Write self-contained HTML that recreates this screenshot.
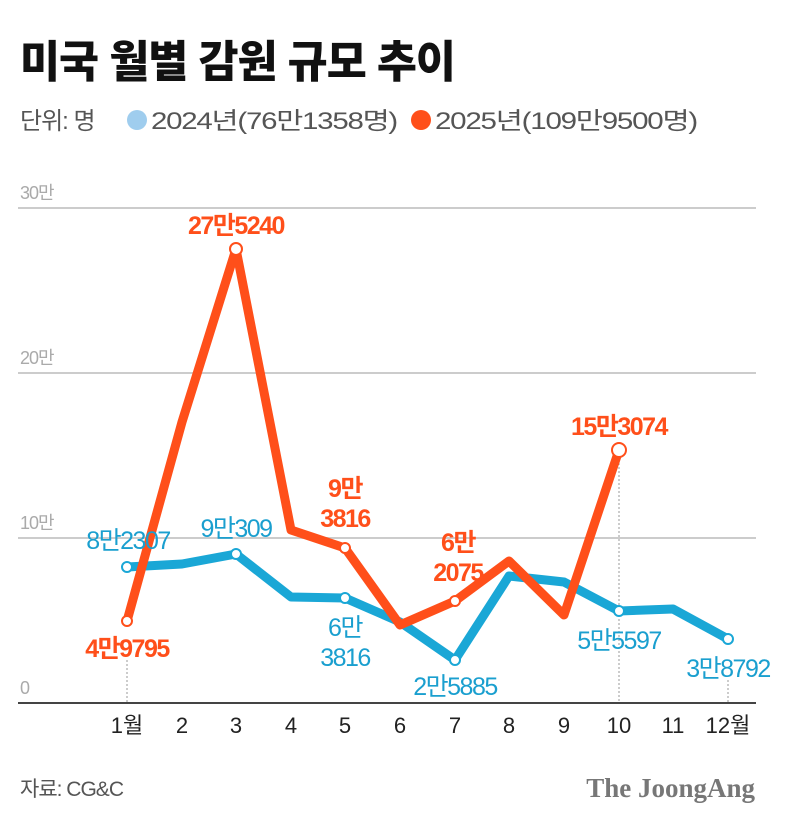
<!DOCTYPE html>
<html><head><meta charset="utf-8"><style>
html,body{margin:0;padding:0;background:#fff;}
svg{display:block;}
text{font-family:"Liberation Sans","Noto Sans CJK KR",sans-serif;}
</style></head><body>
<svg width="798" height="822" viewBox="0 0 798 822" xmlns="http://www.w3.org/2000/svg">
<text x="20" y="77" font-size="44" font-weight="900" fill="#111" letter-spacing="-1" textLength="435" lengthAdjust="spacingAndGlyphs">미국 월별 감원 규모 추이</text>
<text x="20" y="129" font-size="24" fill="#555" letter-spacing="-1">단위: 명</text>
<circle cx="137" cy="120" r="10" fill="#9fcdee"/>
<text x="151" y="129" font-size="24" fill="#555" letter-spacing="-1" textLength="246" lengthAdjust="spacingAndGlyphs">2024년(76만1358명)</text>
<circle cx="421" cy="120" r="10" fill="#ff4f1a"/>
<text x="435" y="129" font-size="24" fill="#555" letter-spacing="-1" textLength="262" lengthAdjust="spacingAndGlyphs">2025년(109만9500명)</text>
<g stroke="#ccc" stroke-width="2">
<line x1="18" y1="208" x2="756" y2="208"/>
<line x1="18" y1="373" x2="756" y2="373"/>
<line x1="18" y1="538" x2="756" y2="538"/>
</g>
<line x1="18" y1="703" x2="756" y2="703" stroke="#444" stroke-width="2"/>
<g font-size="18" fill="#aaa" letter-spacing="-1">
<text x="20" y="199">30만</text><text x="20" y="364">20만</text><text x="20" y="529">10만</text><text x="20" y="694">0</text>
</g>
<g stroke="#999" stroke-dasharray="2,2" stroke-width="1">
<line x1="127" y1="660" x2="127" y2="703"/>
<line x1="619" y1="455" x2="619" y2="703"/>
<line x1="728" y1="680" x2="728" y2="703"/>
</g>
<polyline fill="none" stroke="#1aa7d6" stroke-width="9" stroke-linejoin="round" points="127,567 182,564 236,554 291,597 345,598 400,622 455,660 509,576 564,582 619,611 673,609 728,639"/>
<polyline fill="none" stroke="#ff4f1a" stroke-width="9" stroke-linejoin="round" points="127,621 182,422 236,249 291,530 345,548 400,625 455,601 509,561 564,615 619,450"/>
<g fill="#fff" stroke="#1aa7d6" stroke-width="2">
<circle cx="127" cy="567" r="5"/><circle cx="236" cy="554" r="5"/><circle cx="345" cy="598" r="5"/><circle cx="455" cy="660" r="5"/><circle cx="619" cy="611" r="5"/><circle cx="728" cy="639" r="5"/>
</g>
<g fill="#fff" stroke="#ff4f1a" stroke-width="2">
<circle cx="127" cy="621" r="5"/><circle cx="236" cy="249" r="6"/><circle cx="345" cy="548" r="5"/><circle cx="455" cy="601" r="5"/><circle cx="619" cy="450" r="7"/>
</g>
<g font-size="25" fill="#1a9fcf" text-anchor="middle" letter-spacing="-1.5">
<text x="128" y="549">8만2307</text>
<text x="236" y="537">9만309</text>
<text x="345" y="636">6만</text><text x="345" y="666">3816</text>
<text x="455" y="695">2만5885</text>
<text x="619" y="649">5만5597</text>
<text x="728" y="677">3만8792</text>
</g>
<g font-size="25" font-weight="bold" fill="#ff4f1a" text-anchor="middle" letter-spacing="-1.5">
<text x="127" y="657">4만9795</text>
<text x="236" y="234">27만5240</text>
<text x="345" y="497">9만</text><text x="345" y="527">3816</text>
<text x="458" y="551">6만</text><text x="458" y="581">2075</text>
<text x="619" y="435">15만3074</text>
</g>
<g font-size="22" fill="#222" text-anchor="middle">
<text x="127" y="733">1월</text><text x="182" y="733">2</text><text x="236" y="733">3</text><text x="291" y="733">4</text><text x="345" y="733">5</text><text x="400" y="733">6</text><text x="455" y="733">7</text><text x="509" y="733">8</text><text x="564" y="733">9</text><text x="619" y="733">10</text><text x="673" y="733">11</text><text x="728" y="733">12월</text>
</g>
<text x="20" y="796" font-size="21" fill="#555" letter-spacing="-1">자료: CG&amp;C</text>
<text x="755" y="797" font-size="27" font-weight="bold" fill="#777" text-anchor="end" style="font-family:'Liberation Serif',serif">The JoongAng</text>
</svg>
</body></html>
